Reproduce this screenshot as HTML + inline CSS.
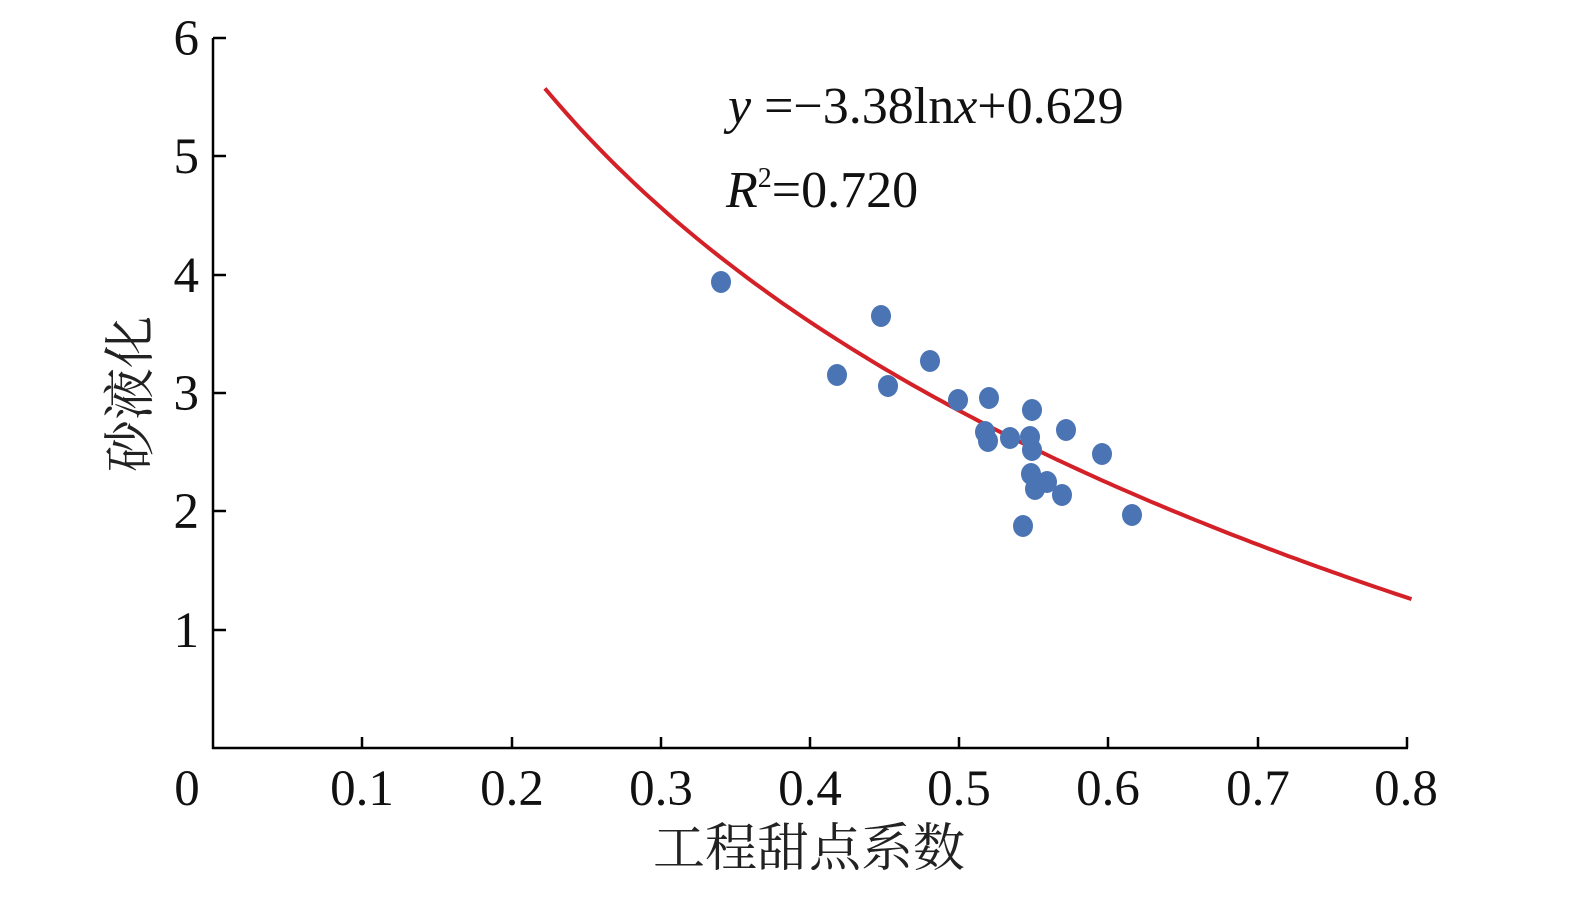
<!DOCTYPE html>
<html><head><meta charset="utf-8"><style>html,body{margin:0;padding:0;background:#fff}</style></head>
<body>
<svg width="1575" height="896" xmlns="http://www.w3.org/2000/svg" font-family="'Liberation Serif','Noto Serif CJK SC',serif">
<g stroke="#000" stroke-width="2.5" fill="none">
<line x1="213" y1="38" x2="213" y2="749"/>
<line x1="212" y1="748" x2="1408" y2="748"/>
<line x1="213" y1="38" x2="226" y2="38"/>
<line x1="213" y1="156" x2="226" y2="156"/>
<line x1="213" y1="275" x2="226" y2="275"/>
<line x1="213" y1="393" x2="226" y2="393"/>
<line x1="213" y1="511" x2="226" y2="511"/>
<line x1="213" y1="630" x2="226" y2="630"/>
<line x1="362" y1="748" x2="362" y2="737"/>
<line x1="512" y1="748" x2="512" y2="737"/>
<line x1="661" y1="748" x2="661" y2="737"/>
<line x1="810" y1="748" x2="810" y2="737"/>
<line x1="959" y1="748" x2="959" y2="737"/>
<line x1="1108" y1="748" x2="1108" y2="737"/>
<line x1="1258" y1="748" x2="1258" y2="737"/>
<line x1="1407" y1="748" x2="1407" y2="737"/>
</g>
<g font-size="51" fill="#111" text-anchor="end">
<text x="199" y="55">6</text><text x="199" y="173">5</text><text x="199" y="292">4</text>
<text x="199" y="410">3</text><text x="199" y="528">2</text><text x="199" y="647">1</text>
</g>
<g font-size="51" fill="#111" text-anchor="middle">
<text x="187" y="805">0</text><text x="362" y="805">0.1</text><text x="512" y="805">0.2</text>
<text x="661" y="805">0.3</text><text x="810" y="805">0.4</text><text x="959" y="805">0.5</text>
<text x="1108" y="805">0.6</text><text x="1258" y="805">0.7</text><text x="1406" y="805">0.8</text>
</g>
<text x="809" y="866" font-size="52" text-anchor="middle" fill="#222">工程甜点系数</text>
<text transform="translate(148,394) rotate(-90)" font-size="52" text-anchor="middle" fill="#222">砂液化</text>
<text x="728" y="123" font-size="52" fill="#111"><tspan font-style="italic">y</tspan> =−3.38ln<tspan font-style="italic">x</tspan>+0.629</text>
<text x="726" y="207" font-size="52" fill="#111"><tspan font-style="italic">R</tspan><tspan font-size="28" dy="-20">2</tspan><tspan dy="20">=0.720</tspan></text>
<path id="c" fill="none" stroke="#d42027" stroke-width="4" d=""/>
<g fill="#4a74b4">
<ellipse cx="721" cy="282" rx="10" ry="11"/><ellipse cx="881" cy="316" rx="10" ry="11"/>
<ellipse cx="837" cy="375" rx="10" ry="11"/><ellipse cx="888" cy="386" rx="10" ry="11"/>
<ellipse cx="930" cy="361" rx="10" ry="11"/><ellipse cx="958" cy="400" rx="10" ry="11"/>
<ellipse cx="989" cy="398" rx="10" ry="11"/><ellipse cx="1032" cy="410" rx="10" ry="11"/>
<ellipse cx="985" cy="432" rx="10" ry="11"/><ellipse cx="988" cy="441" rx="10" ry="11"/>
<ellipse cx="1010" cy="438" rx="10" ry="11"/><ellipse cx="1030" cy="437" rx="10" ry="11"/>
<ellipse cx="1032" cy="450" rx="10" ry="11"/><ellipse cx="1066" cy="430" rx="10" ry="11"/>
<ellipse cx="1102" cy="454" rx="10" ry="11"/><ellipse cx="1031" cy="474" rx="10" ry="11"/>
<ellipse cx="1035" cy="489" rx="10" ry="11"/><ellipse cx="1047" cy="482" rx="10" ry="11"/>
<ellipse cx="1062" cy="495" rx="10" ry="11"/><ellipse cx="1023" cy="526" rx="10" ry="11"/>
<ellipse cx="1132" cy="515" rx="10" ry="11"/>
</g>
</svg>
<script>
var d="";for(var i=0;i<=120;i++){var x=0.2224+(0.803-0.2224)*i/120;var y=-3.36*Math.log(x)+0.52;var px=213+x*1492.5,py=748-y*118.4;d+=(i?"L":"M")+px.toFixed(1)+","+py.toFixed(1);}
document.getElementById("c").setAttribute("d",d);
</script>
</body></html>
